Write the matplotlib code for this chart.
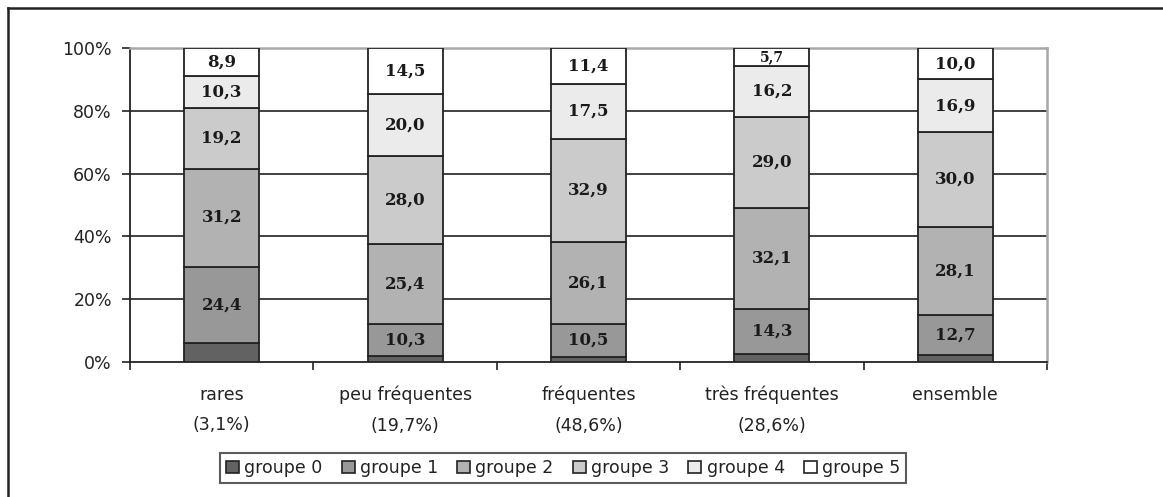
import matplotlib
matplotlib.use("Agg")
import matplotlib.pyplot as plt
from matplotlib.lines import Line2D
import numpy as np

categories = ["rares\n(3,1%)", "peu fréquentes\n(19,7%)", "fréquentes\n(48,6%)",
              "très fréquentes\n(28,6%)", "ensemble"]
groups = ["groupe 0", "groupe 1", "groupe 2", "groupe 3", "groupe 4", "groupe 5"]

# share (%) of each group within each category
groupe_0 = [6.0, 1.8, 1.6, 2.7, 2.3]
groupe_1 = [24.4, 10.3, 10.5, 14.3, 12.7]
groupe_2 = [31.2, 25.4, 26.1, 32.1, 28.1]
groupe_3 = [19.2, 28.0, 32.9, 29.0, 30.0]
groupe_4 = [10.3, 20.0, 17.5, 16.2, 16.9]
groupe_5 = [8.9, 14.5, 11.4, 5.7, 10.0]
series = [groupe_0, groupe_1, groupe_2, groupe_3, groupe_4, groupe_5]
labelled = [False, True, True, True, True, True]

colors = ["#626262", "#989898", "#b2b2b2", "#cbcbcb", "#ebebeb", "#ffffff"]

sans = "DejaVu Sans"
serif = "DejaVu Serif"

W, H = 1163, 497
fig = plt.figure(figsize=(W / 100, H / 100), dpi=100)
ax = fig.add_axes([130 / W, 1 - 362 / H, (1047 - 130) / W, (362 - 48) / H])

x = np.arange(len(categories))
bottom = np.zeros(len(categories))
handles = []
for vals, col, name, lab in zip(series, colors, groups, labelled):
    vals = np.array(vals)
    bars = ax.bar(x, vals, width=0.41, bottom=bottom, color=col,
                  edgecolor="#222222", linewidth=1.3, label=name, zorder=3)
    handles.append(bars)
    if lab:
        for xi, b, v in zip(x, bottom, vals):
            fs = 12 if v > 7 else 10
            ax.text(xi, b + v / 2, f"{v:.1f}".replace(".", ","),
                    ha="center", va="center", fontsize=fs, fontweight="bold",
                    family=serif, color="#1a1a1a", zorder=4)
    bottom += vals

ax.set_xlim(-0.5, len(categories) - 0.5)
ax.set_ylim(0, 100)

# y axis
ax.set_yticks([0, 20, 40, 60, 80, 100])
ax.set_yticklabels(["0%", "20%", "40%", "60%", "80%", "100%"], family=sans, fontsize=12.5,
                   color="#222222")
ax.tick_params(axis="y", length=6, width=1.2, color="#222222", pad=7)
for yv in [20, 40, 60, 80]:
    ax.axhline(yv, color="#333333", linewidth=1.3, zorder=1)

# x axis: boundary ticks, category names centred below the bars
ax.set_xticks(np.arange(-0.5, len(categories), 1.0))
ax.set_xticklabels([])
ax.tick_params(axis="x", which="major", direction="out", length=6, width=1.2, color="#222222")
ax.set_xticks(x, minor=True)
ax.set_xticklabels(categories, minor=True, family=sans, fontsize=12.5, linespacing=1.9,
                   color="#222222")
ax.tick_params(axis="x", which="minor", length=0, pad=17)

for side in ["left", "bottom"]:
    ax.spines[side].set_color("#222222")
    ax.spines[side].set_linewidth(1.3)
for side in ["top", "right"]:
    ax.spines[side].set_color("#a8a8a8")
    ax.spines[side].set_linewidth(1.8)

leg = fig.legend(handles=handles, labels=groups, loc="upper left",
                 bbox_to_anchor=(220 / W, 1 - 453 / H),
                 ncol=6, frameon=True, fancybox=False,
                 prop={"family": sans, "size": 12.5}, handlelength=0.75, handleheight=0.75,
                 handletextpad=0.3, columnspacing=1.1, borderpad=0.35, borderaxespad=0)
leg.get_frame().set_edgecolor("#333333")
leg.get_frame().set_linewidth(1.5)
for t in leg.get_texts():
    t.set_color("#222222")
for h in leg.legend_handles:
    h.set_edgecolor("#222222")
    h.set_linewidth(1.2)

# outer frame of the chart
fig.add_artist(Line2D([8 / W, 8 / W], [0, 1 - 8 / H], transform=fig.transFigure,
                      color="#222222", linewidth=1.8))
fig.add_artist(Line2D([8 / W, 1], [1 - 8 / H, 1 - 8 / H], transform=fig.transFigure,
                      color="#222222", linewidth=1.8))

fig.savefig("out.png", dpi=100)
